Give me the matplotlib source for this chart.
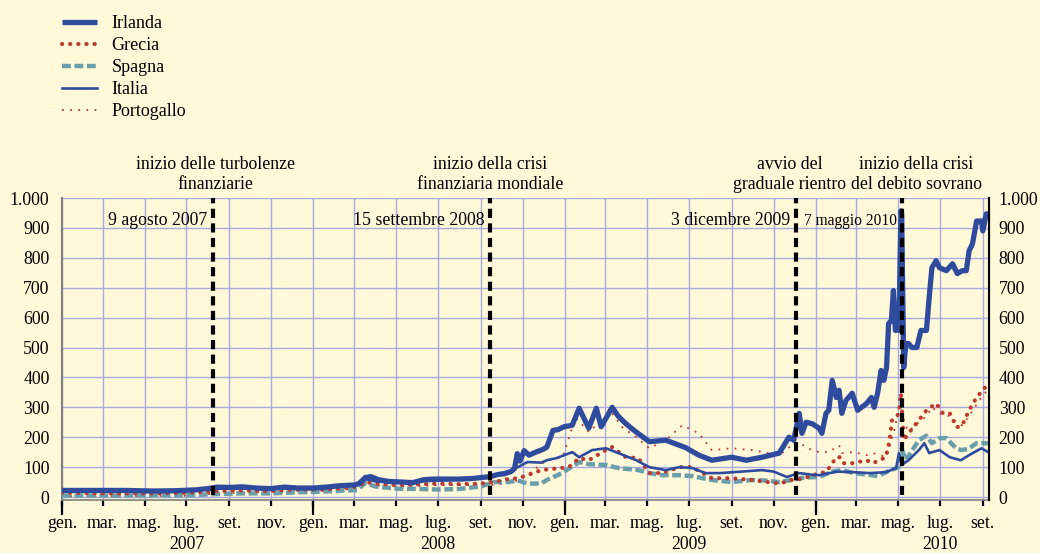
import matplotlib
matplotlib.use("Agg")
import matplotlib.pyplot as plt
import matplotlib.dates as mdates
from matplotlib.ticker import FixedLocator, FuncFormatter
from matplotlib.transforms import blended_transform_factory, offset_copy
import pandas as pd

# ---------------- data ----------------
irl_dates = ["2007-01-01","2007-02-15","2007-04-01","2007-05-15","2007-06-15","2007-07-15","2007-08-01","2007-08-15",
             "2007-09-01","2007-09-20","2007-10-10","2007-11-01","2007-11-20","2007-12-10",
             "2008-01-01","2008-01-20","2008-02-10","2008-03-01","2008-03-08","2008-03-17","2008-03-25","2008-04-05",
             "2008-04-20","2008-05-10","2008-05-25","2008-06-10","2008-06-25","2008-07-15","2008-08-01","2008-08-20",
             "2008-09-01","2008-09-15","2008-09-25","2008-10-05","2008-10-15","2008-10-20","2008-10-24","2008-10-28",
             "2008-11-03","2008-11-10","2008-11-20","2008-12-01","2008-12-06","2008-12-15","2008-12-22","2008-12-31",
             "2009-01-12","2009-01-22","2009-02-05","2009-02-16","2009-02-23","2009-03-11","2009-03-20","2009-03-31",
             "2009-04-15","2009-05-04","2009-05-28","2009-06-26","2009-07-15","2009-08-03","2009-09-01","2009-09-22",
             "2009-10-15","2009-11-09","2009-11-23","2009-11-30","2009-12-08","2009-12-12","2009-12-18","2009-12-27",
             "2010-01-06","2010-01-10","2010-01-16","2010-01-20","2010-01-25","2010-01-31","2010-02-04","2010-02-08",
             "2010-02-14","2010-02-23","2010-03-03","2010-03-16","2010-03-23","2010-03-27","2010-04-01","2010-04-06",
             "2010-04-10","2010-04-14","2010-04-17","2010-04-21","2010-04-24","2010-04-27","2010-04-28","2010-05-02",
             "2010-05-05","2010-05-06","2010-05-09","2010-05-12","2010-05-16","2010-05-21","2010-05-28","2010-06-03",
             "2010-06-11","2010-06-15","2010-06-19","2010-06-25","2010-06-30","2010-07-10","2010-07-19","2010-07-26",
             "2010-08-02","2010-08-08","2010-08-12","2010-08-17","2010-08-23","2010-08-30","2010-09-01","2010-09-06",
             "2010-09-09"]
irl_vals = [22,22,22,20,21,24,28,33,
            32,34,30,28,33,30,
            30,33,38,40,45,65,68,58,
            52,50,48,58,60,60,60,62,
            65,68,75,78,85,95,145,120,
            155,140,150,160,167,223,225,235,
            240,297,230,297,235,300,270,245,
            217,185,190,165,140,123,133,123,
            133,147,200,190,280,213,250,245,
            230,213,280,290,390,333,357,280,
            323,347,290,313,333,300,347,423,
            390,433,580,590,690,557,613,557,
            957,947,433,513,513,500,500,557,
            557,667,767,790,767,757,780,747,
            757,757,823,847,923,923,890,947,
            947]

gre_dates = ["2007-01-01","2007-03-01","2007-05-01","2007-07-01","2007-08-15","2007-09-15","2007-11-01","2007-12-01",
             "2008-01-15","2008-02-15","2008-03-05","2008-03-17","2008-04-01","2008-05-01","2008-06-01","2008-07-01",
             "2008-08-01","2008-09-01","2008-09-20","2008-10-10","2008-10-25","2008-11-08","2008-11-28","2008-12-27",
             "2009-01-07","2009-01-22","2009-02-05","2009-03-02","2009-03-11","2009-03-31","2009-04-18","2009-05-04",
             "2009-05-22","2009-06-17","2009-07-05","2009-08-03","2009-09-01","2009-09-30","2009-11-09","2009-11-27",
             "2009-12-10","2009-12-25",
             "2010-01-06","2010-01-16","2010-01-31","2010-02-05","2010-02-10","2010-02-23","2010-03-16","2010-03-25",
             "2010-04-13","2010-04-18","2010-04-22","2010-04-28","2010-05-02","2010-05-05","2010-05-09","2010-05-16",
             "2010-05-22","2010-05-31","2010-06-11","2010-06-25","2010-07-05","2010-07-15","2010-07-25","2010-08-02",
             "2010-08-12","2010-08-23","2010-09-01","2010-09-09"]
gre_vals = [15,12,12,14,20,22,20,25,
            25,30,35,50,45,40,42,45,
            43,45,50,60,63,73,90,97,
            100,130,123,157,167,133,130,80,
            80,100,100,63,63,57,45,57,
            60,70,
            80,83,133,133,113,113,123,113,
            133,183,257,267,280,347,190,213,
            230,257,290,313,280,280,233,240,
            290,333,357,380]

spa_dates = ["2007-01-01","2007-03-01","2007-05-01","2007-07-01","2007-08-15","2007-09-15","2007-11-01","2007-12-01",
             "2008-01-15","2008-02-15","2008-03-05","2008-03-17","2008-04-01","2008-05-01","2008-06-01","2008-07-01",
             "2008-08-01","2008-09-01","2008-09-20","2008-10-10","2008-10-25","2008-11-08","2008-11-28","2008-12-06",
             "2008-12-28",
             "2009-01-07","2009-01-22","2009-02-05","2009-03-02","2009-03-20","2009-04-18","2009-05-04","2009-05-22",
             "2009-06-17","2009-07-05","2009-08-03","2009-09-01","2009-09-30","2009-10-20","2009-11-09","2009-11-27",
             "2009-12-15",
             "2010-01-06","2010-01-25","2010-02-08","2010-02-25","2010-03-16","2010-04-01","2010-04-20","2010-05-02",
             "2010-05-06","2010-05-12","2010-05-31","2010-06-11","2010-06-19","2010-06-30","2010-07-10","2010-07-24",
             "2010-08-01","2010-08-10","2010-08-23","2010-09-09"]
spa_vals = [5,5,5,6,10,12,12,15,
            18,22,23,47,35,28,27,25,
            27,35,50,50,55,45,45,57,
            80,
            95,117,110,107,97,90,80,73,
            73,70,57,50,57,55,50,57,
            65,
            67,85,90,80,75,70,90,100,
            160,123,190,205,180,197,197,163,
            157,160,180,180]

ita_dates = ["2007-01-01","2007-04-01","2007-07-01","2007-08-15","2007-10-01","2007-12-01",
             "2008-01-15","2008-02-15","2008-03-05","2008-03-17","2008-04-01","2008-05-01","2008-06-01","2008-07-01",
             "2008-08-01","2008-09-01","2008-09-15","2008-10-10","2008-10-25","2008-11-08","2008-11-28","2008-12-06",
             "2008-12-20",
             "2009-01-12","2009-01-22","2009-02-10","2009-03-02","2009-03-20","2009-04-15","2009-05-04","2009-05-28",
             "2009-06-17","2009-07-05","2009-07-25","2009-08-15","2009-09-15","2009-10-15","2009-11-01","2009-11-20",
             "2009-12-08","2009-12-25",
             "2010-01-06","2010-02-01","2010-02-25","2010-03-20","2010-04-13","2010-04-28","2010-05-02","2010-05-06",
             "2010-05-16","2010-05-31","2010-06-08","2010-06-15","2010-06-30","2010-07-15","2010-07-31","2010-08-12",
             "2010-08-30","2010-09-09"]
ita_vals = [22,22,22,28,28,30,
            32,38,40,60,52,48,52,55,
            58,62,70,85,100,117,115,123,
            130,
            150,133,157,163,147,123,100,90,
            100,97,80,80,85,90,85,67,
            80,75,
            73,85,83,80,83,97,147,107,
            123,157,180,147,157,133,123,140,
            163,150]

por_dates = ["2007-01-01","2007-04-01","2007-07-01","2007-08-15","2007-10-01","2007-12-01",
             "2008-01-15","2008-02-15","2008-03-05","2008-03-17","2008-04-01","2008-05-01","2008-06-01","2008-07-01",
             "2008-08-01","2008-09-01","2008-09-25","2008-10-10","2008-10-25","2008-11-08","2008-11-20","2008-12-06",
             "2008-12-29",
             "2009-01-17","2009-02-05","2009-02-19","2009-03-11","2009-03-26","2009-04-15","2009-05-04","2009-05-28",
             "2009-06-21","2009-07-15","2009-08-03","2009-09-01","2009-09-30","2009-11-09","2009-11-27","2009-12-08",
             "2009-12-20",
             "2010-01-06","2010-01-20","2010-02-04","2010-02-08","2010-02-23","2010-03-03","2010-03-16","2010-03-25",
             "2010-04-05","2010-04-13","2010-04-20","2010-04-26","2010-05-02","2010-05-06","2010-05-09","2010-05-16",
             "2010-05-31","2010-06-11","2010-06-19","2010-06-30","2010-07-15","2010-07-25","2010-08-02","2010-08-12",
             "2010-08-23","2010-09-01","2010-09-09"]
por_vals = [3,3,4,12,15,18,
            20,25,28,40,38,35,37,40,
            40,40,40,50,55,75,95,123,
            133,
            267,217,247,280,233,200,163,190,
            240,213,157,163,157,140,173,183,
            163,
            150,150,173,147,150,147,140,147,
            140,133,180,230,300,320,250,220,
            250,270,300,280,270,250,240,270,
            310,340,360]

events = ["2007-08-09", "2008-09-15", "2009-12-03", "2010-05-07"]
event_dates_text = ["9 agosto 2007", "15 settembre 2008", "3 dicembre 2009", "7 maggio 2010"]
event_titles = ["inizio delle turbolenze\nfinanziarie", "inizio della crisi\nfinanziaria mondiale",
                "avvio del\ngraduale rientro", "inizio della crisi\ndel debito sovrano"]
month_names = ["gen.", "feb.", "mar.", "apr.", "mag.", "giu.", "lug.", "ago.", "set.", "ott.", "nov.", "dic."]
years = ["2007", "2008", "2009", "2010"]
y_ticks = [0, 100, 200, 300, 400, 500, 600, 700, 800, 900, 1000]

# ---------------- style ----------------
BG = "#FFF9DA"
BLUE = "#2E4B9E"
RED = "#BE3A2E"
TEAL = "#6A9EAB"
GRID = "#A6AAE0"
plt.rcParams["font.family"] = ["Liberation Serif", "DejaVu Serif"]
FS = 12.8

fig = plt.figure(figsize=(10.4, 5.53), dpi=100, facecolor=BG)
ax = fig.add_axes([62/1040, 1-500/553, (989-62)/1040, (500-198)/553])
ax.set_facecolor(BG)

xmin = pd.Timestamp("2007-01-01")
xmax = pd.Timestamp("2010-09-10")
ax.set_xlim(xmin, xmax)
ax.set_ylim(-10, 1000)

series = [
    ("Irlanda", irl_dates, irl_vals, dict(color=BLUE, lw=3.8, ls="-", solid_capstyle="butt"), 5),
    ("Grecia", gre_dates, gre_vals, dict(color=RED, lw=3.0, ls=(0, (0.05, 1.9)), dash_capstyle="round"), 3),
    ("Spagna", spa_dates, spa_vals, dict(color=TEAL, lw=3.2, ls=(0, (2.0, 0.8)), dash_capstyle="butt"), 2),
    ("Italia", ita_dates, ita_vals, dict(color=BLUE, lw=1.9, ls="-"), 4),
    ("Portogallo", por_dates, por_vals, dict(color=RED, lw=1.3, ls=(0, (1, 3.5))), 1),
]
handles = {}
for name, d, v, kw, z in series:
    line, = ax.plot(pd.to_datetime(d), v, label=name, zorder=z + 2, **kw)
    handles[name] = line

# grid
ax.set_yticks(y_ticks)
ax.yaxis.grid(True, color=GRID, lw=1.0, zorder=0)
month_ticks = pd.date_range("2007-01-01", "2010-09-01", freq="2MS")
year_ticks = pd.date_range("2007-01-01", "2010-01-01", freq="YS")
ax.xaxis.set_major_locator(FixedLocator(mdates.date2num(year_ticks)))
ax.xaxis.set_minor_locator(FixedLocator(mdates.date2num(month_ticks)))
ax.xaxis.remove_overlapping_locs = False
ax.xaxis.set_major_formatter(FuncFormatter(lambda x, p: ""))
ax.xaxis.set_minor_formatter(FuncFormatter(lambda x, p: month_names[mdates.num2date(x).month - 1]))
for t in month_ticks:
    ax.axvline(t, color=GRID, lw=1.0, zorder=0)
ax.tick_params(axis="x", which="major", length=11, width=1.6, color="black")
ax.tick_params(axis="x", which="minor", length=4, width=1.6, color="black", pad=7, labelsize=FS)
ax.set_axisbelow(True)

fmt = FuncFormatter(lambda v, p: f"{int(v):,}".replace(",", "."))
ax.yaxis.set_major_formatter(fmt)
ax.tick_params(axis="y", length=0, pad=9, labelsize=FS)

ax2 = ax.twinx()
ax2.set_ylim(ax.get_ylim())
ax2.set_yticks(y_ticks)
ax2.yaxis.set_major_formatter(fmt)
ax2.tick_params(axis="y", length=0, pad=7, labelsize=FS)

for a in (ax, ax2):
    a.spines["top"].set_visible(False)
ax.spines["left"].set_color("#7F7F7F")
ax.spines["left"].set_linewidth(1.5)
ax.spines["bottom"].set_color("#7F7F7F")
ax.spines["bottom"].set_linewidth(1.2)
ax2.spines["left"].set_visible(False)
ax2.spines["bottom"].set_visible(False)
ax2.spines["right"].set_color("black")
ax2.spines["right"].set_linewidth(1.5)

# year labels
trans_x = blended_transform_factory(ax.transData, ax.transAxes)
for y in years:
    mid = pd.Timestamp(f"{y}-07-01")
    ax.text(mid, -0.161, y, transform=trans_x, ha="center", va="baseline", fontsize=FS)

# events
title_offsets = [2, 0, -6, 14]
for i, (ev, lab, title, dx) in enumerate(zip(events, event_dates_text, event_titles, title_offsets)):
    evd = pd.Timestamp(ev)
    ax.plot([evd, evd], [8, 1000], color="black", lw=3.0, ls=(0, (2.2, 1.3)), zorder=9,
            solid_capstyle="butt", dash_capstyle="butt")
    if i < 3:
        t = offset_copy(trans_x, fig=fig, x=-6, y=0, units="dots")
        ax.text(evd, 0.925, lab, transform=t, ha="right", va="center", fontsize=FS, zorder=10)
    else:
        t = offset_copy(trans_x, fig=fig, x=-5, y=0, units="dots")
        ax.text(evd, 0.925, lab, transform=t, ha="right", va="center", fontsize=11.2, zorder=10)
    t2 = offset_copy(trans_x, fig=fig, x=dx, y=5, units="dots")
    ax.text(evd, 1.0, title, transform=t2, ha="center", va="bottom", fontsize=FS,
            linespacing=1.2, clip_on=False)

# legend
names = ["Irlanda", "Grecia", "Spagna", "Italia", "Portogallo"]
leg = fig.legend([handles[n] for n in names], names, loc="upper left",
                 bbox_to_anchor=(62/1040, 1 - 15/553), frameon=False, fontsize=13,
                 handlelength=1.95, handletextpad=0.8, labelspacing=0.28, borderaxespad=0,
                 borderpad=0)

fig.savefig("out.png", dpi=100, facecolor=BG)
